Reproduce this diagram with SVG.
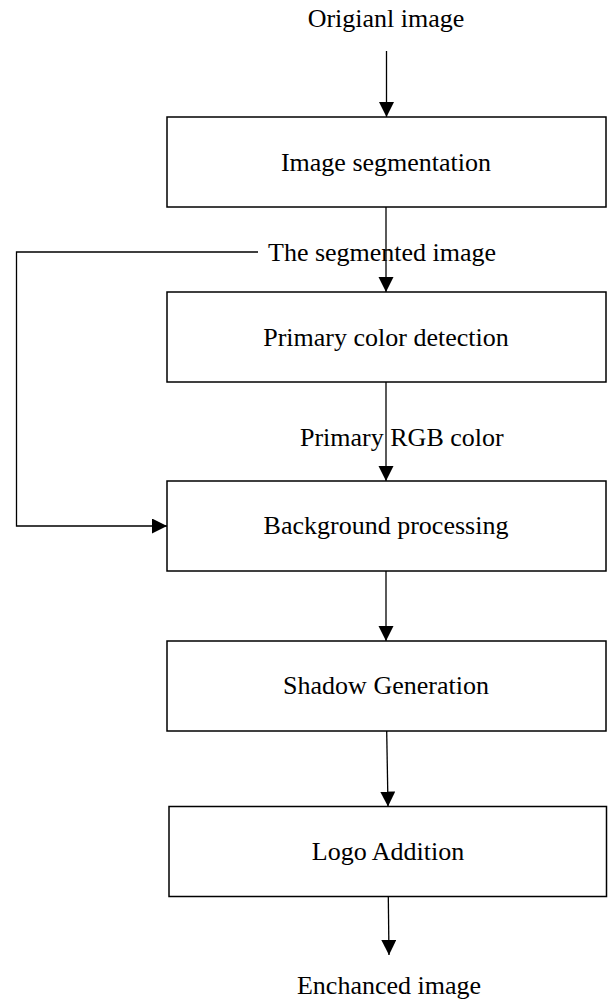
<svg xmlns="http://www.w3.org/2000/svg" width="610" height="1002" viewBox="0 0 610 1002">
<style>
.box{fill:#fff;stroke:#000;stroke-width:1.5}
.conn{fill:none;stroke:#000;stroke-width:1.3}
text{font-family:"Liberation Serif","Times New Roman",serif;font-size:26px;fill:#000}
.c{text-anchor:middle}
</style>
<defs>
<marker id="ah" markerUnits="userSpaceOnUse" markerWidth="16" markerHeight="16" refX="15" refY="7.5" orient="auto">
<path d="M0,0 L15,7.5 L0,15 Z" fill="#000"/>
</marker>
</defs>
<rect width="610" height="1002" fill="#fff"/>
<g id="connectors">
<line class="conn" x1="386.5" y1="51" x2="386.5" y2="117" marker-end="url(#ah)"/>
<line class="conn" x1="386" y1="207" x2="386" y2="292" marker-end="url(#ah)"/>
<line class="conn" x1="386" y1="382" x2="386" y2="481" marker-end="url(#ah)"/>
<line class="conn" x1="386" y1="571" x2="386" y2="641" marker-end="url(#ah)"/>
<line class="conn" x1="386.7" y1="731" x2="388" y2="806.5" marker-end="url(#ah)"/>
<line class="conn" x1="388.3" y1="897" x2="389" y2="955" marker-end="url(#ah)"/>
<polyline class="conn" points="258,252 16.5,252 16.5,526 167,526" marker-end="url(#ah)"/>
</g>
<g id="label-original"><text class="c" x="386" y="27">Origianl image</text></g>
<g id="node-segmentation">
<rect class="box" x="167" y="117" width="439" height="90"/>
<text class="c" x="386" y="171">Image segmentation</text>
</g>
<g id="label-segmented"><text x="268" y="261">The segmented image</text></g>
<g id="node-primary">
<rect class="box" x="167" y="292" width="439" height="90"/>
<text class="c" x="386" y="346">Primary color detection</text>
</g>
<g id="label-rgb"><text x="300" y="446">Primary RGB color</text></g>
<g id="node-background">
<rect class="box" x="167" y="481" width="439" height="90"/>
<text class="c" x="386" y="534">Background processing</text>
</g>
<g id="node-shadow">
<rect class="box" x="167" y="641" width="439" height="90"/>
<text class="c" x="386" y="694">Shadow Generation</text>
</g>
<g id="node-logo">
<rect class="box" x="169" y="806.5" width="437.5" height="90"/>
<text class="c" x="388" y="860">Logo Addition</text>
</g>
<g id="label-enhanced"><text class="c" x="389" y="994">Enchanced image</text></g>
</svg>
